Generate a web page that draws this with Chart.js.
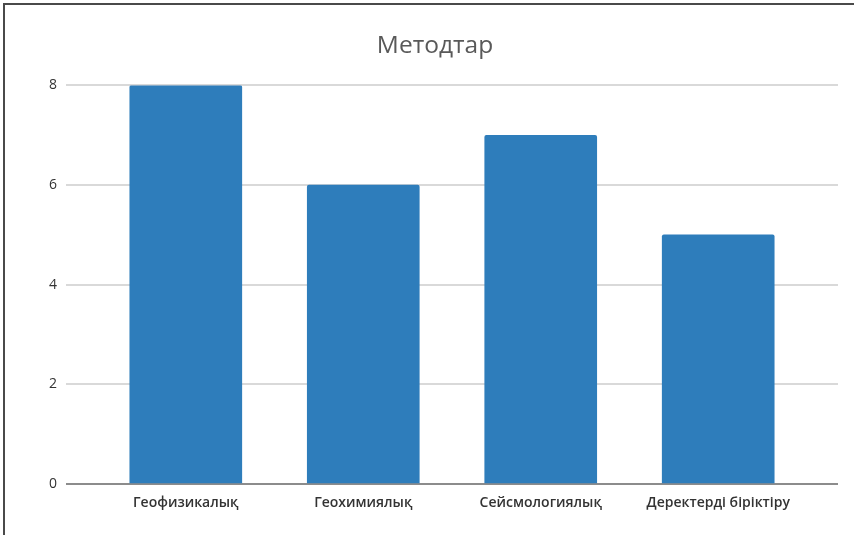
<!DOCTYPE html>
<html>
<head>
<meta charset="utf-8">
<script src="https://cdn.jsdelivr.net/npm/chart.js@4/dist/chart.umd.min.js"></script>
<style>
  html, body { margin: 0; padding: 0; background: #fff; }
  #wrap { position: relative; width: 854px; height: 535px; overflow: hidden; }
  #frame { position: absolute; left: 3px; top: 3px; width: 860px; height: 560px;
           border-top: 2px solid #4a4a4a; border-left: 2px solid #4a4a4a; box-sizing: border-box; pointer-events: none; }
  canvas { position: absolute; left: 0; top: 0; }
</style>
</head>
<body>
<div id="wrap">
  <canvas id="c" width="854" height="535"></canvas>
  <div id="frame"></div>
</div>
<script>
const titleText = "Методтар";
const categories = ["Геофизикалық", "Геохимиялық", "Сейсмологиялық", "Деректерді біріктіру"];
const values = [8, 6, 7, 5];
const yTicks = [0, 2, 4, 6, 8];

const points = categories.map((c, i) => ({ x: i, y: values[i] }));

new Chart(document.getElementById('c'), {
  type: 'bar',
  data: {
    datasets: [{
      data: points,
      backgroundColor: '#2e7dbb',
      borderWidth: 0,
      borderRadius: 2,
      borderSkipped: 'bottom',
      barThickness: 112
    }]
  },
  options: {
    responsive: false,
    animation: false,
    layout: { padding: { left: 32, right: 16, top: 0, bottom: 0 } },
    plugins: {
      legend: { display: false },
      tooltip: { enabled: false },
      title: {
        display: true,
        text: titleText,
        color: '#595959',
        font: { family: 'Open Sans', size: 24.5, weight: 'normal' },
        padding: { top: 31, bottom: 25 }
      }
    },
    scales: {
      x: {
        type: 'linear',
        offset: false,
        min: -0.675,
        max: 3.675,
        grid: { display: false },
        border: { display: false },
        afterBuildTicks: s => { s.ticks = categories.map((c, i) => ({ value: i })); },
        afterFit: s => { s.height = 51; },
        ticks: {
          autoSkip: false,
          maxRotation: 0,
          padding: 3,
          color: '#333333',
          font: { family: 'Open Sans', size: 14, weight: '600' },
          callback: v => categories[v]
        }
      },
      y: {
        min: 0,
        max: 8,
        afterBuildTicks: s => { s.ticks = yTicks.map(v => ({ value: v })); },
        afterFit: s => { s.width = 34; },
        border: { display: false },
        grid: {
          drawTicks: false,
          lineWidth: 2,
          color: ctx => ctx.tick && ctx.tick.value === 0 ? '#8c8c8c' : '#d9d9d9'
        },
        ticks: {
          padding: 9,
          color: '#333333',
          font: { family: 'Open Sans', size: 14 }
        }
      }
    }
  }
});
</script>
</body>
</html>
